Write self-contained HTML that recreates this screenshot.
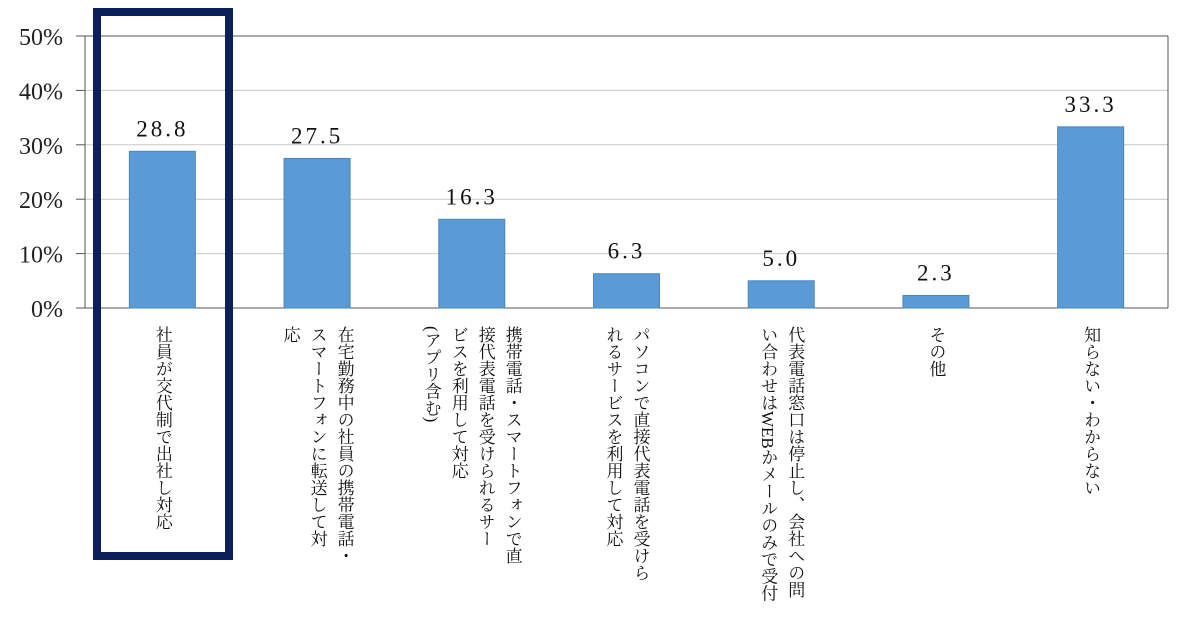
<!DOCTYPE html>
<html><head><meta charset="utf-8"><style>
body{margin:0;width:1200px;height:630px;background:#fff;overflow:hidden;position:relative;font-family:"Liberation Serif","Noto Serif CJK JP",serif;}
.lab{position:absolute;top:326px;writing-mode:vertical-rl;font-size:17px;line-height:27px;color:#111;font-family:"Liberation Serif","Noto Serif CJK JP",serif;white-space:nowrap;}
</style></head><body>
<svg id="chart" width="1200" height="630" style="position:absolute;left:0;top:0"></svg>
<div id="labs"></div>
<div style="position:absolute;left:93px;top:8px;width:124px;height:536px;border:8px solid #0c1f5a;"></div>
<script>
const categories=[["社員が交代制で出社し対応"],["在宅勤務中の社員の携帯電話・","スマートフォンに転送して対","応"],["携帯電話・スマートフォンで直","接代表電話を受けられるサー","ビスを利用して対応","(アプリ含む)"],["パソコンで直接代表電話を受けら","れるサービスを利用して対応"],["代表電話窓口は停止し、会社への問","い合わせはWEBかメールのみで受付"],["その他"],["知らない・わからない"]];
const values=[28.8,27.5,16.3,6.3,5.0,2.3,33.3];
const valueLabels=["28.8","27.5","16.3","6.3","5.0","2.3","33.3"];
const yTicks=[0,10,20,30,40,50];
const tickLabels=["0%","10%","20%","30%","40%","50%"];
const NS="http://www.w3.org/2000/svg";
const svg=document.getElementById('chart');
const L=85,R=1168,T=36,B=308;
const y=v=>B-(v/50)*(B-T);
const bw=(R-L)/categories.length;
const xc=i=>L+bw*(i+0.5);
function mk(t,a){const e=document.createElementNS(NS,t);for(const k in a)e.setAttribute(k,a[k]);svg.appendChild(e);return e;}
yTicks.forEach((v,i)=>{
 const g=mk('line',{x1:L,x2:R,y1:y(v),y2:y(v),stroke:(v===0||v===50)?'#555':'#c8c8c8','stroke-width':1});
 
 
 const tk=mk('line',{x1:76,x2:L,y1:y(v),y2:y(v),stroke:'#555'});
 
 
 const t=mk('text',{x:63,y:y(v)+9,'text-anchor':'end','font-size':24,fill:'#222','font-family':'Liberation Serif, serif'});
 t.textContent=tickLabels[i];
 
 
});
const ax=mk('line',{x1:L,x2:L,y1:T,y2:B,stroke:'#555'});


const rx=mk('line',{x1:R,x2:R,y1:T,y2:B,stroke:'#555'});


values.forEach((v,i)=>{
 const r=mk('rect',{x:xc(i)-33,y:y(v),width:66,height:B-y(v),fill:'#5b9bd5',stroke:'#4a86c0','stroke-width':1});
 
 
 const t=mk('text',{x:xc(i),y:y(v)-15,'text-anchor':'middle','font-size':23,fill:'#111','font-family':'Liberation Serif, serif','letter-spacing':'3'});
 t.textContent=valueLabels[i];
 
 
});
const labs=document.getElementById('labs');
categories.forEach((c,i)=>{
 const d=document.createElement('div');
 d.className='lab';
 
 
 d.innerHTML=c.join('<br>');
 labs.appendChild(d);
 const w=d.offsetWidth;
 d.style.left=(xc(i)-w/2)+'px';
});
</script>
</body></html>
